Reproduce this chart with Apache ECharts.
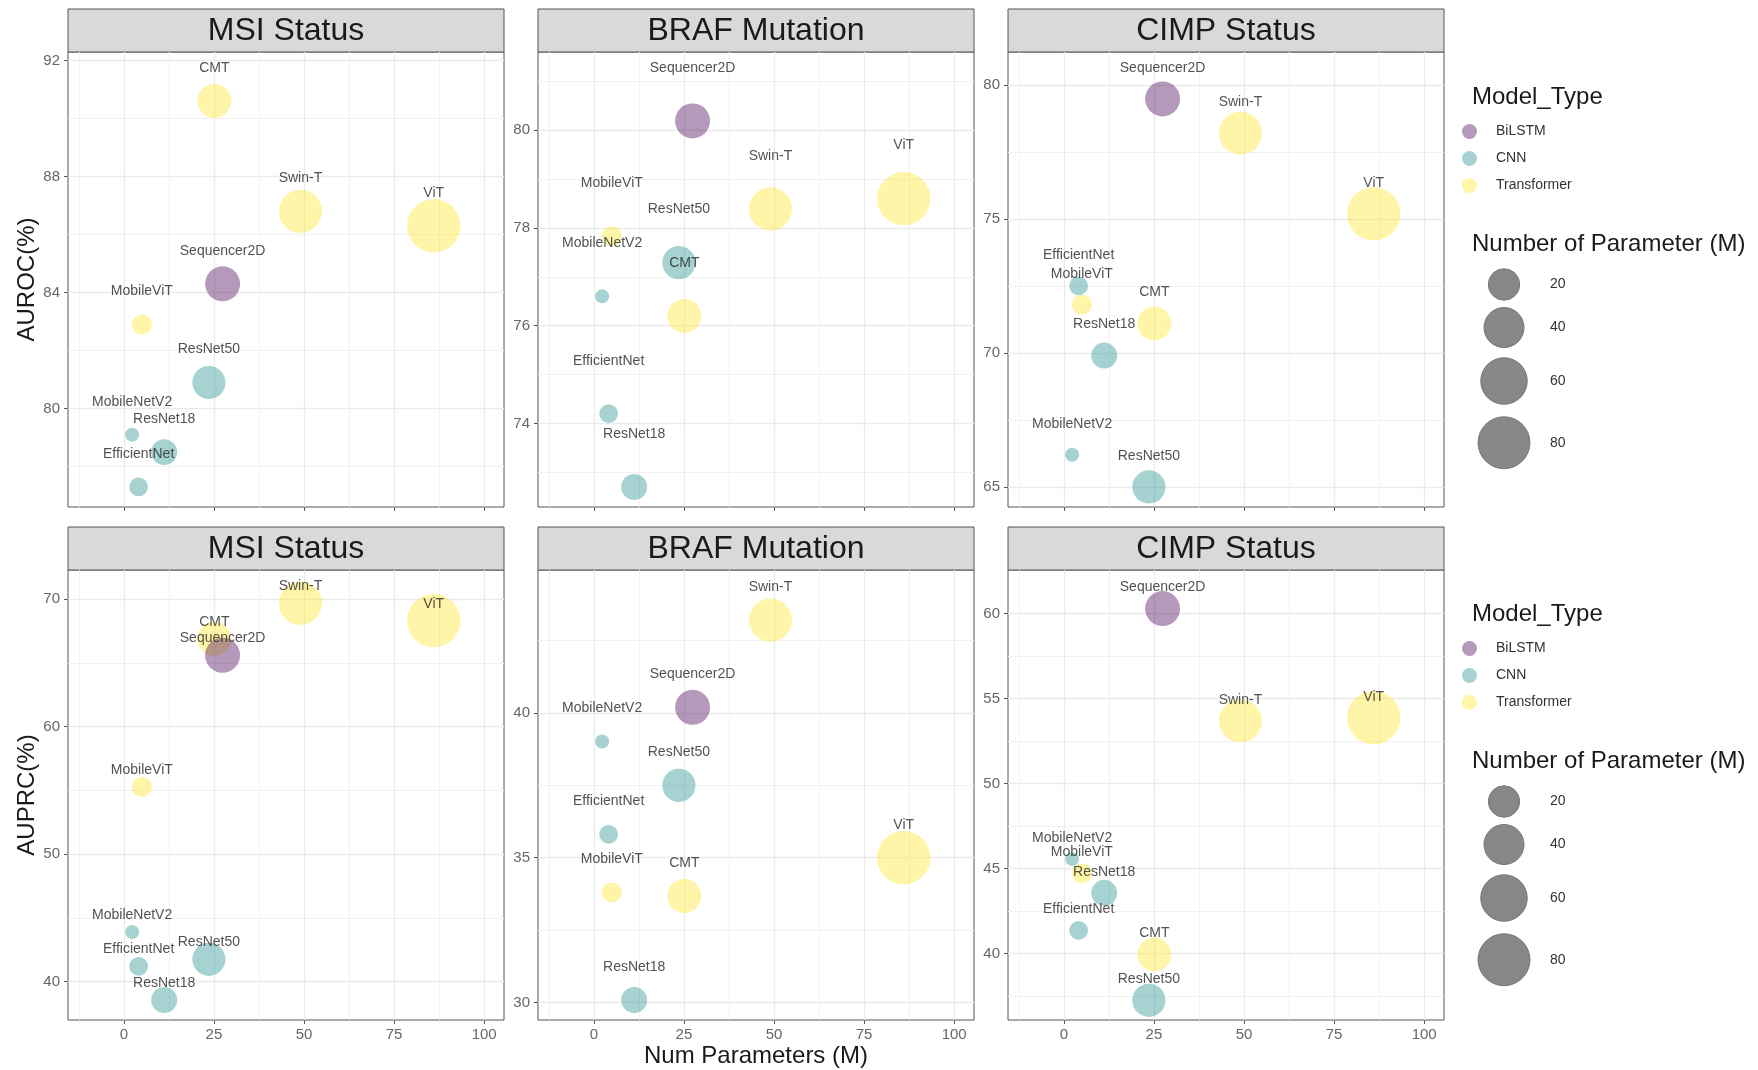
<!DOCTYPE html>
<html>
<head>
<meta charset="utf-8">
<script src="https://cdn.jsdelivr.net/npm/echarts@6/dist/echarts.min.js"></script>
<style>
  html, body { margin: 0; padding: 0; background: #fff; }
  #chart { width: 1758px; height: 1070px; }
</style>
</head>
<body>
<div id="chart"></div>
<script>
// models, same order in every panel (ggplot draw order)
var models = ['MobileNetV2', 'EfficientNet', 'MobileViT', 'ResNet18', 'ResNet50', 'CMT', 'Sequencer2D', 'Swin-T', 'ViT'];
var params = [2.3, 4.1, 5.0, 11.2, 23.6, 25.1, 27.4, 49.0, 86.0];
var modelTypes = ['CNN', 'CNN', 'Transformer', 'CNN', 'CNN', 'Transformer', 'BiLSTM', 'Transformer', 'Transformer'];
var typeNames = ['BiLSTM', 'CNN', 'Transformer'];
var sizeBreaks = [20, 40, 60, 80];

// AUROC row
var msiAuroc = [79.1, 77.3, 82.9, 78.5, 80.9, 90.6, 84.3, 86.8, 86.3];
var brafAuroc = [76.6, 74.2, 77.83, 72.7, 77.29, 76.2, 80.19, 78.39, 78.6];
var cimpAuroc = [66.2, 72.5, 71.8, 69.9, 65.0, 71.1, 79.48, 78.2, 75.19];
// AUPRC row
var msiAuprc = [43.9, 41.2, 55.27, 38.57, 41.76, 66.87, 65.59, 69.66, 68.3];
var brafAuprc = [39.01, 35.81, 33.8, 30.09, 37.5, 33.68, 40.19, 43.2, 35.0];
var cimpAuprc = [45.56, 41.36, 44.72, 43.57, 37.25, 39.95, 60.29, 53.68, 53.87];

// tick labels
var xTicks = [0, 25, 50, 75, 100];
var xMinor = [-12.5, 12.5, 37.5, 62.5, 87.5];
var msiAurocTicks = [80, 84, 88, 92], msiAurocMinor = [78, 82, 86, 90];
var brafAurocTicks = [74, 76, 78, 80], brafAurocMinor = [73, 75, 77, 79, 81];
var cimpAurocTicks = [65, 70, 75, 80], cimpAurocMinor = [67.5, 72.5, 77.5];
var msiAuprcTicks = [40, 50, 60, 70], msiAuprcMinor = [45, 55, 65];
var brafAuprcTicks = [30, 35, 40], brafAuprcMinor = [32.5, 37.5, 42.5];
var cimpAuprcTicks = [40, 45, 50, 55, 60], cimpAuprcMinor = [37.5, 42.5, 47.5, 52.5, 57.5];

var FONT = '"Liberation Sans", Arial, Helvetica, sans-serif';
// viridis at alpha 0.5
var typeColors = { BiLSTM: 'rgba(68,1,84,0.5)', CNN: 'rgba(33,144,140,0.5)', Transformer: 'rgba(253,231,37,0.5)' };

// layout
var colLeft = [68, 538, 1008];
var panelW = 436;
var rowTop = [52, 570];
var rowH = [455, 450];
var stripH = 43;
var X_MIN = -15.5, X_MAX = 105.5;

var panels = [
  { title: 'MSI Status', vals: msiAuroc, ticks: msiAurocTicks, minor: msiAurocMinor, min: 76.61, max: 92.29, off: 33, row: 0, col: 0, yName: 'AUROC(%)' },
  { title: 'BRAF Mutation', vals: brafAuroc, ticks: brafAurocTicks, minor: brafAurocMinor, min: 72.29, max: 81.6, off: 53, row: 0, col: 1 },
  { title: 'CIMP Status', vals: cimpAuroc, ticks: cimpAurocTicks, minor: cimpAurocMinor, min: 64.25, max: 81.23, off: 31, row: 0, col: 2 },
  { title: 'MSI Status', vals: msiAuprc, ticks: msiAuprcTicks, minor: msiAuprcMinor, min: 37.0, max: 72.27, off: 17, row: 1, col: 0, yName: 'AUPRC(%)' },
  { title: 'BRAF Mutation', vals: brafAuprc, ticks: brafAuprcTicks, minor: brafAuprcMinor, min: 29.4, max: 44.93, off: 33, row: 1, col: 1, xName: 'Num Parameters (M)' },
  { title: 'CIMP Status', vals: cimpAuprc, ticks: cimpAuprcTicks, minor: cimpAuprcMinor, min: 36.09, max: 62.56, off: 21, row: 1, col: 2 }
];

// ggplot area scale, radius in px
function bubbleRadius(v) {
  return 6.3 + 20.4 * Math.sqrt(Math.max(v - 2.2, 0) / 83.8);
}

var grids = [], xAxes = [], yAxes = [], series = [], graphics = [];

panels.forEach(function (p, gi) {
  var left = colLeft[p.col], top = rowTop[p.row], h = rowH[p.row];
  grids.push({
    left: left, top: top, width: panelW, height: h,
    show: true, borderColor: '#555', borderWidth: 1, backgroundColor: '#fff'
  });
  // major x axis
  xAxes.push({
    type: 'value', gridIndex: gi, min: X_MIN, max: X_MAX, position: 'bottom',
    name: p.xName || '', nameLocation: 'middle', nameGap: 24,
    nameTextStyle: { fontSize: 24, color: '#1a1a1a', fontFamily: FONT },
    axisLine: { show: false, onZero: false },
    axisTick: { show: true, length: 4, lineStyle: { color: '#555' }, customValues: xTicks },
    axisLabel: { show: p.row === 1, customValues: xTicks, fontSize: 15, color: '#666', margin: 7, fontFamily: FONT },
    splitLine: { show: true, lineStyle: { color: '#ebebeb', width: 1.3 } }
  });
  // minor x grid lines
  xAxes.push({
    type: 'value', gridIndex: gi, min: X_MIN, max: X_MAX, position: 'top',
    axisLine: { show: false, onZero: false },
    axisTick: { show: false, customValues: xMinor },
    axisLabel: { show: false },
    splitLine: { show: true, lineStyle: { color: '#f1f1f1', width: 1 } }
  });
  yAxes.push({
    type: 'value', gridIndex: gi, min: p.min, max: p.max, position: 'left',
    name: p.yName || '', nameLocation: 'middle', nameGap: 29, nameRotate: 90,
    nameTextStyle: { fontSize: 24, color: '#1a1a1a', fontFamily: FONT },
    axisLine: { show: false, onZero: false },
    axisTick: { show: true, length: 4, lineStyle: { color: '#555' }, customValues: p.ticks },
    axisLabel: { customValues: p.ticks, fontSize: 15, color: '#666', margin: 8, fontFamily: FONT },
    splitLine: { show: true, lineStyle: { color: '#ebebeb', width: 1.3 } }
  });
  yAxes.push({
    type: 'value', gridIndex: gi, min: p.min, max: p.max, position: 'right',
    axisLine: { show: false, onZero: false },
    axisTick: { show: false, customValues: p.minor },
    axisLabel: { show: false },
    splitLine: { show: true, lineStyle: { color: '#f1f1f1', width: 1 } }
  });
  series.push({
    type: 'scatter',
    xAxisIndex: gi * 2, yAxisIndex: gi * 2,
    data: params.map(function (x, i) {
      return { name: models[i], value: [x, p.vals[i]], itemStyle: { color: typeColors[modelTypes[i]] } };
    }),
    symbolSize: function (val) { return 2 * bubbleRadius(val[0]); },
    label: {
      show: true, position: 'inside', offset: [0, -p.off], formatter: '{b}',
      fontSize: 14, color: '#262626', fontFamily: FONT
    },
    emphasis: { disabled: true },
    silent: true
  });
  // facet strip
  graphics.push({
    type: 'rect', shape: { x: left, y: top - stripH, width: panelW, height: stripH },
    style: { fill: '#d9d9d9', stroke: '#555', lineWidth: 1 }
  });
  graphics.push({
    type: 'text', x: left + panelW / 2, y: top - stripH / 2 + 1,
    style: { text: p.title, fontSize: 32, fill: '#1a1a1a', font: '32px ' + FONT, textAlign: 'center', textVerticalAlign: 'middle' }
  });
});

// empty series only feed the Model_Type legends
typeNames.forEach(function (t) {
  series.push({ type: 'scatter', name: t, data: [], xAxisIndex: 0, yAxisIndex: 0, itemStyle: { color: typeColors[t] } });
});

// right-side legends, one per row
var legendX = 1472;
var legendTitleY = [97, 614];
var legends = [];
legendTitleY.forEach(function (ty) {
  graphics.push({
    type: 'text', x: legendX, y: ty,
    style: { text: 'Model_Type', font: '24px ' + FONT, fill: '#1a1a1a', textVerticalAlign: 'middle' }
  });
  legends.push({
    orient: 'vertical', left: 1462, top: ty + 34.5 - 7.5, padding: 0,
    itemWidth: 43, itemHeight: 15, itemGap: 12, icon: 'circle', selectedMode: false,
    data: typeNames.map(function (t) { return { name: t, itemStyle: { color: typeColors[t] } }; }),
    textStyle: { fontSize: 14, color: '#333', fontFamily: FONT }
  });
  var sy = ty + 147.5;
  graphics.push({
    type: 'text', x: legendX, y: sy,
    style: { text: 'Number of Parameter (M)', font: '24px ' + FONT, fill: '#1a1a1a', textVerticalAlign: 'middle' }
  });
  // stack the size keys like ggplot does
  var cy = sy + 40, prevH = null;
  sizeBreaks.forEach(function (v) {
    var r = bubbleRadius(v);
    var kh = 1.387 * 2 * r - 6.5;
    if (prevH !== null) cy += (prevH + kh) / 2;
    prevH = kh;
    graphics.push({
      type: 'circle', shape: { cx: 1504, cy: cy, r: r },
      style: { fill: '#878787', stroke: '#767676', lineWidth: 1 }
    });
    graphics.push({
      type: 'text', x: 1550, y: cy,
      style: { text: String(v), font: '14px ' + FONT, fill: '#333', textVerticalAlign: 'middle' }
    });
  });
});

var chart = echarts.init(document.getElementById('chart'));
chart.setOption({
  animation: false,
  backgroundColor: '#fff',
  textStyle: { fontFamily: FONT },
  grid: grids,
  xAxis: xAxes,
  yAxis: yAxes,
  legend: legends,
  series: series,
  graphic: graphics
});
</script>
</body>
</html>
